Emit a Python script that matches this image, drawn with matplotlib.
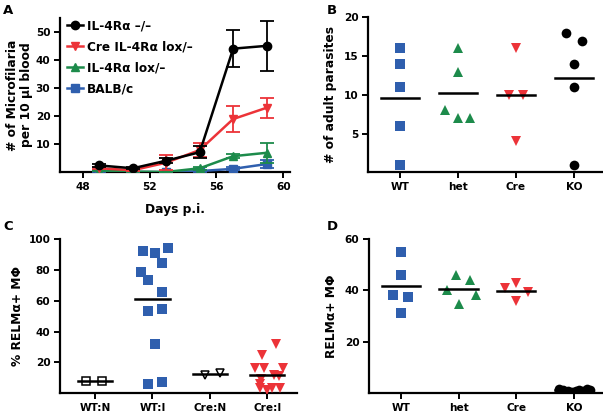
import matplotlib
matplotlib.use("Agg")
import matplotlib.pyplot as plt
from matplotlib.lines import Line2D
import numpy as np

plt.rcParams['font.family'] = ['DejaVu Sans']
plt.rcParams['font.weight'] = 'bold'
plt.rcParams['axes.labelweight'] = 'bold'

BLUE = '#2f5fae'
GREEN = '#1d8b4b'
RED = '#ec3338'
BLACK = '#000000'

# ---------------- Panel A data ----------------
days = [49, 51, 53, 55, 57, 59]
ko_mean = [2.5, 1.5, 4.2, 7.2, 44.0, 45.0]
ko_err = [0.5, 0.4, 0.8, 2.2, 6.5, 8.8]
cre_mean = [1.5, 0.8, 3.5, 8.0, 19.0, 23.0]
cre_err = [0.3, 0.3, 2.6, 2.4, 4.5, 3.5]
lox_mean = [0.6, 0.3, 0.2, 1.5, 5.8, 7.0]
lox_err = [0.2, 0.1, 0.1, 0.5, 0.8, 3.5]
balb_mean = [0.5, 0.2, 0.1, 0.5, 1.3, 3.0]
balb_err = [0.2, 0.1, 0.1, 0.3, 0.5, 1.5]
legend_labels = ['IL-4Rα –/–', 'Cre IL-4Rα lox/–', 'IL-4Rα lox/–', 'BALB/c']

# ---------------- Panel B data ----------------
b_categories = ['WT', 'het', 'Cre', 'KO']
b_wt = [16, 14, 11, 6, 1]
b_het = [16, 13, 8, 7, 7]
b_cre = [16, 10, 10, 4]
b_ko = [18, 17, 14, 11, 1]
b_wt_jit = [0, 0, 0, 0, 0]
b_het_jit = [0, 0, -0.23, 0, 0.2]
b_cre_jit = [0, -0.12, 0.12, 0]
b_ko_jit = [-0.14, 0.13, 0, 0, 0]

# ---------------- Panel C data ----------------
c_categories = ['WT:N', 'WT:I', 'Cre:N', 'Cre:I']
c_wtn = [8, 8]
c_wti = [92.4, 90.9, 94.6, 84.8, 78.4, 73.2, 65.8, 54.6, 53.1, 32.1, 5.9, 7.2]
c_cren = [12, 13]
c_crei = [32, 25, 16.5, 16, 16.5, 12, 11, 9, 6, 3, 2, 3, 3.5]
c_wtn_jit = [-0.15, 0.12]
c_wti_jit = [-0.17, 0.05, 0.27, 0.17, -0.2, -0.08, 0.17, 0.17, -0.08, 0.05, -0.08, 0.17]
c_cren_jit = [-0.08, 0.17]
c_crei_jit = [0.16, -0.09, -0.22, -0.06, 0.28, 0.12, 0.2, -0.1, -0.12, -0.13, 0.0, 0.09, 0.22]

# ---------------- Panel D data ----------------
d_categories = ['WT', 'het', 'Cre', 'KO']
d_wt = [55, 46, 38, 37.5, 31]
d_het = [46, 44, 40, 38, 34.5]
d_cre = [41, 43, 39.5, 36]
d_ko = [1.6, 1.2, 0.6, 0.4, 0.9, 1.3, 0.8, 1.5, 1.0]
d_wt_jit = [0, 0, -0.13, 0.13, 0]
d_het_jit = [-0.05, 0.2, -0.2, 0.3, 0]
d_cre_jit = [-0.2, 0, 0.2, 0]
d_ko_jit = [-0.27, -0.19, -0.11, -0.03, 0.03, 0.09, 0.15, 0.22, 0.28]

W, H = 603, 418
fig = plt.figure(figsize=(W / 100, H / 100), dpi=100)


def ax_px(left, right, top, bottom):
    return fig.add_axes([left / W, 1 - bottom / H, (right - left) / W, (bottom - top) / H])


def style(ax):
    for s in ['top', 'right']:
        ax.spines[s].set_visible(False)
    for s in ['left', 'bottom']:
        ax.spines[s].set_linewidth(1.6)
    ax.tick_params(direction='out', length=4, width=1.4, labelsize=7.6, pad=3)
    for lab in ax.get_xticklabels() + ax.get_yticklabels():
        lab.set_fontweight('bold')


# ---------------- A ----------------
axA = ax_px(60, 290, 17.7, 172.5)
series = [
    (ko_mean, ko_err, BLACK, 'o', 6.0),
    (cre_mean, cre_err, RED, 'v', 6.0),
    (lox_mean, lox_err, GREEN, '^', 6.0),
    (balb_mean, balb_err, BLUE, 's', 5.4),
]
handles = []
for i in [3, 2, 1, 0]:
    m, e, c, mk, ms = series[i]
    axA.errorbar(days, m, yerr=e, color=c, marker=mk, markersize=ms, lw=1.8,
                 elinewidth=1.3, capsize=5, capthick=1.3, zorder=3 + (3 - i))
for m, e, c, mk, ms in series:
    handles.append(Line2D([], [], color=c, marker=mk, markersize=ms, lw=1.8))
axA.set_xlim(46.64, 60.4)
axA.set_ylim(0, 55)
axA.set_xticks([48, 52, 56, 60])
axA.set_yticks([10, 20, 30, 40, 50])
style(axA)
axA.set_xlabel('Days p.i.', fontsize=8.8, fontweight='bold', labelpad=8)
axA.set_ylabel('# of Microfilaria\nper 10 µl blood', fontsize=8.8, fontweight='bold',
               linespacing=1.05, labelpad=2)
axA.legend(handles, legend_labels, loc='upper left', frameon=False,
           bbox_to_anchor=(0.0, 1.035), handlelength=1.3, handletextpad=0.35,
           labelspacing=0.65, prop={'weight': 'bold', 'size': 8.7}, borderaxespad=0.2)


def dot_panel(ax, groups, jits, colors, markers, filled, ms, cats, ylim, yticks,
              ylabel, halfwidth=0.33, labelpad=5):
    for i, (vals, jit, col, mk, fl) in enumerate(zip(groups, jits, colors, markers, filled)):
        xs = [i + j for j in jit]
        if fl:
            ax.plot(xs, vals, linestyle='none', marker=mk, color=col, markersize=ms,
                    markeredgewidth=0, zorder=3)
        else:
            ax.plot(xs, vals, linestyle='none', marker=mk, markerfacecolor='white',
                    markeredgecolor=col, markersize=ms - 1, markeredgewidth=1.1, zorder=3)
        mean = float(np.mean(vals))
        ax.plot([i - halfwidth, i + halfwidth], [mean, mean], color='black', lw=1.8, zorder=4)
    ax.set_xticks(range(len(cats)))
    ax.set_xticklabels(cats)
    ax.set_ylim(*ylim)
    ax.set_yticks(yticks)
    style(ax)
    ax.set_ylabel(ylabel, fontsize=8.8, fontweight='bold', labelpad=labelpad)


# ---------------- B ----------------
axB = ax_px(368, 603, 17.3, 172.5)
dot_panel(axB, [b_wt, b_het, b_cre, b_ko], [b_wt_jit, b_het_jit, b_cre_jit, b_ko_jit],
          [BLUE, GREEN, RED, BLACK], ['s', '^', 'v', 'o'], [True] * 4, 7,
          b_categories, (0, 20), [5, 10, 15, 20], '# of adult parasites')
axB.set_xlim(-0.55, 3.5)

# ---------------- C ----------------
axC = ax_px(60, 297, 239.3, 393)
dot_panel(axC, [c_wtn, c_wti, c_cren, c_crei], [c_wtn_jit, c_wti_jit, c_cren_jit, c_crei_jit],
          [BLACK, BLUE, BLACK, RED], ['s', 's', 'v', 'v'], [False, True, False, True], 7,
          c_categories, (0, 100), [20, 40, 60, 80, 100], '% RELMα+ MΦ', halfwidth=0.3,
          labelpad=3)
axC.set_xlim(-0.61, 3.52)

# ---------------- D ----------------
axD = ax_px(369, 603, 239, 393)
dot_panel(axD, [d_wt, d_het, d_cre, d_ko], [d_wt_jit, d_het_jit, d_cre_jit, d_ko_jit],
          [BLUE, GREEN, RED, BLACK], ['s', '^', 'v', 'o'], [True] * 4, 7,
          d_categories, (0, 60), [20, 40, 60], 'RELMα+ MΦ')
axD.set_xlim(-0.55, 3.5)

# panel letters
for lab, (x, y) in {'A': (8, 10), 'B': (332, 10), 'C': (8, 226), 'D': (332, 227)}.items():
    fig.text(x / W, 1 - y / H, lab, fontsize=9.5, fontweight='bold', va='center', ha='center')

fig.savefig('out.png', dpi=100)
